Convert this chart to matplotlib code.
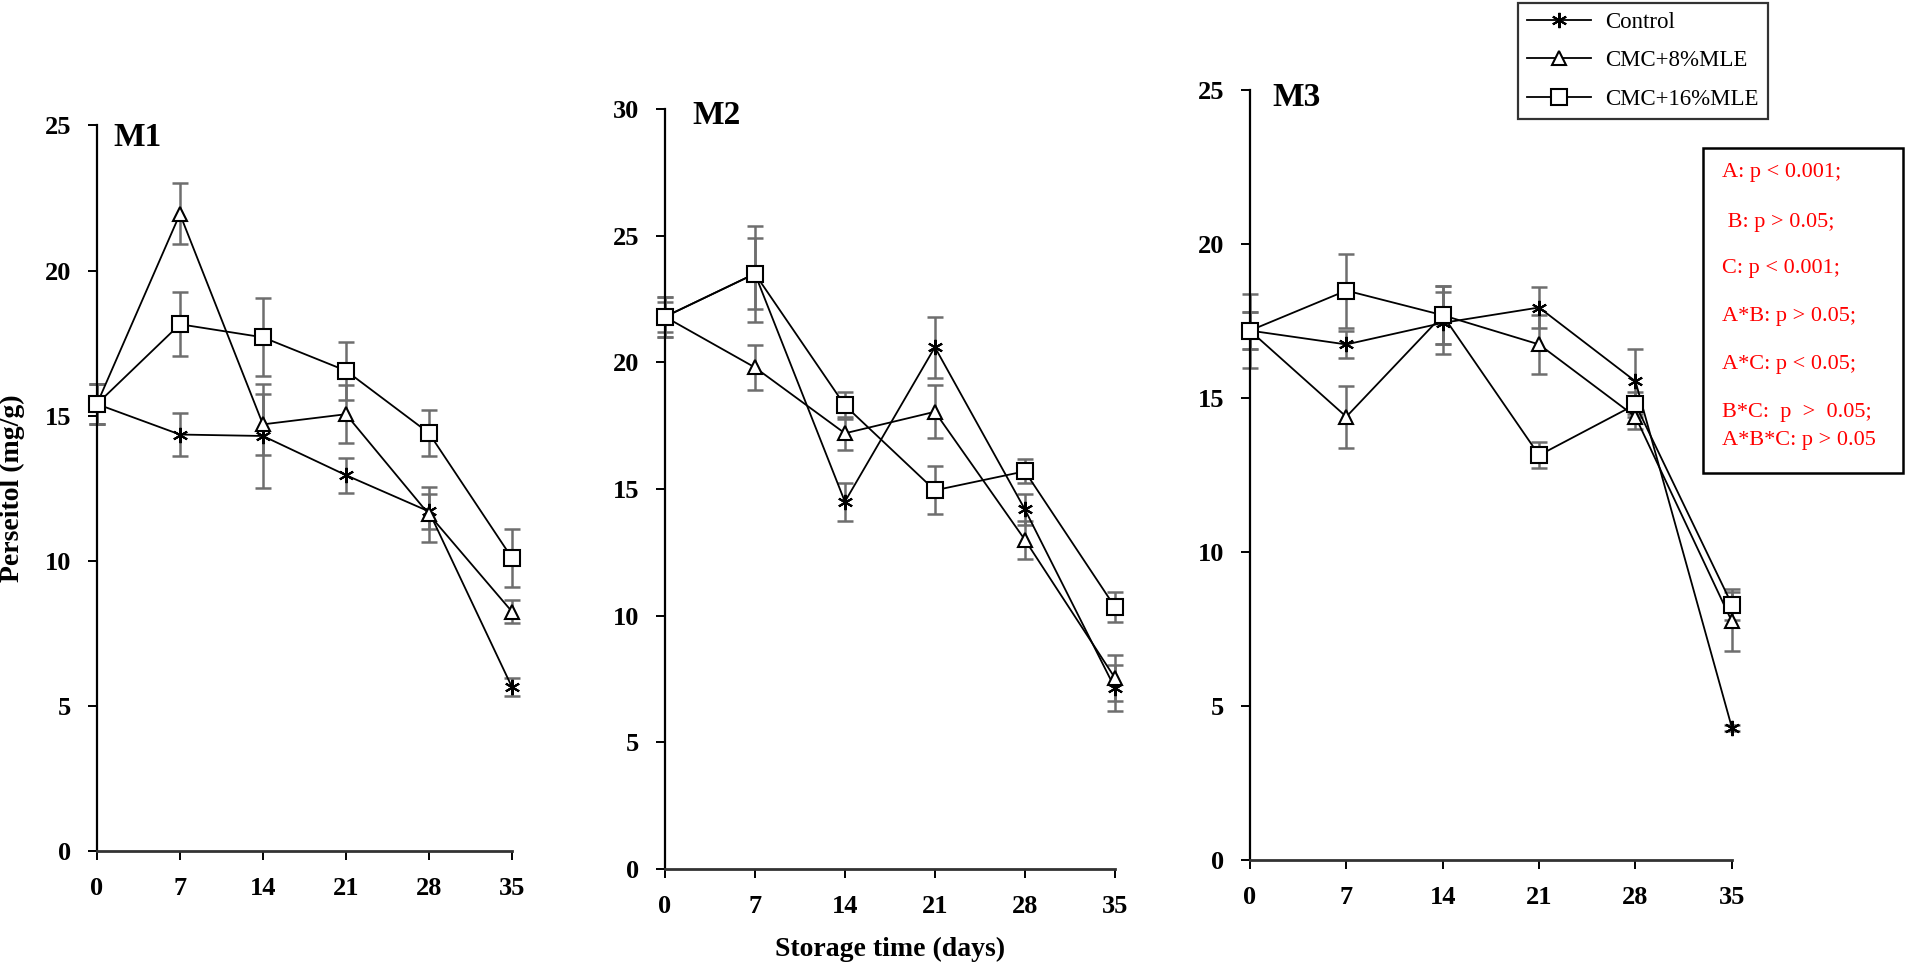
import numpy as np
import matplotlib
matplotlib.use('Agg')
import matplotlib.pyplot as plt
from matplotlib.patches import Rectangle

plt.rcParams['font.family'] = ['Liberation Serif', 'DejaVu Serif']

# storage days
days = [0, 7, 14, 21, 28, 35]
series_names = ['Control', 'CMC+8%MLE', 'CMC+16%MLE']

# M1
m1_control = [15.4, 14.35, 14.3, 12.95, 11.7, 5.65]
m1_control_err = [0.7, 0.75, 1.8, 0.6, 0.6, 0.3]
m1_cmc8 = [15.4, 21.95, 14.7, 15.05, 11.6, 8.25]
m1_cmc8_err = [0.7, 1.05, 1.05, 1.0, 0.95, 0.4]
m1_cmc16 = [15.4, 18.15, 17.7, 16.55, 14.4, 10.1]
m1_cmc16_err = [0.7, 1.1, 1.35, 1.0, 0.8, 1.0]

# M2
m2_control = [21.8, 23.5, 14.5, 20.6, 14.2, 7.15]
m2_control_err = [0.8, 1.9, 0.75, 1.2, 0.6, 0.9]
m2_cmc8 = [21.8, 19.8, 17.2, 18.05, 13.0, 7.55]
m2_cmc8_err = [0.8, 0.9, 0.65, 1.05, 0.75, 0.9]
m2_cmc16 = [21.8, 23.5, 18.3, 14.95, 15.7, 10.35]
m2_cmc16_err = [0.6, 1.4, 0.55, 0.95, 0.47, 0.6]

# M3
m3_control = [17.2, 16.75, 17.45, 17.95, 15.55, 4.3]
m3_control_err = [1.2, 0.45, 1.0, 0.65, 1.05, 0.1]
m3_cmc8 = [17.2, 14.4, 17.7, 16.75, 14.4, 7.75]
m3_cmc8_err = [0.6, 1.0, 0.95, 0.95, 0.4, 0.95]
m3_cmc16 = [17.2, 18.5, 17.7, 13.15, 14.8, 8.3]
m3_cmc16_err = [0.6, 1.2, 0.95, 0.43, 0.4, 0.5]

stats_lines = ['A: p < 0.001;', ' B: p > 0.05;', 'C: p < 0.001;', 'A*B: p > 0.05;',
               'A*C: p < 0.05;', 'B*C:  p  >  0.05;', 'A*B*C: p > 0.05']

markers = [(6, 2, 0), '^', 's']
marker_sizes = [11, 10, 11]

panels = [
    ('M1', [m1_control, m1_cmc8, m1_cmc16], [m1_control_err, m1_cmc8_err, m1_cmc16_err],
     25, [0.0508, 0.1236, 0.2175, 0.7472], (0.039, 0.984)),
    ('M2', [m2_control, m2_cmc8, m2_cmc16], [m2_control_err, m2_cmc8_err, m2_cmc16_err],
     30, [0.3485, 0.1050, 0.2358, 0.7827], (0.060, 0.991)),
    ('M3', [m3_control, m3_cmc8, m3_cmc16], [m3_control_err, m3_cmc8_err, m3_cmc16_err],
     25, [0.6551, 0.1143, 0.2526, 0.7925], (0.046, 0.991)),
]

fig = plt.figure(figsize=(19.08, 9.71), dpi=100)
handles = []
for name, vals, errs, ymax, pos, tpos in panels:
    ax = fig.add_axes(pos)
    for i in range(3):
        ax.errorbar(days, vals[i], yerr=errs[i], fmt='none', ecolor='#6e6e6e',
                    elinewidth=1.8, capsize=6, capthick=1.8, clip_on=False, zorder=2)
        ln, = ax.plot(days, vals[i], color='black', lw=1.3, marker=markers[i],
                      ms=marker_sizes[i], mfc='white' if i > 0 else 'black', mec='black',
                      mew=1.5, clip_on=False, zorder=3, label=series_names[i])
        if name == 'M1':
            handles.append(ln)
    ax.set_xlim(0, 35)
    ax.set_ylim(0, ymax)
    ax.set_xticks(days)
    ax.set_yticks(np.arange(0, ymax + 1, 5))
    ax.spines['top'].set_visible(False)
    ax.spines['right'].set_visible(False)
    ax.spines['left'].set_linewidth(1.6)
    ax.spines['bottom'].set_linewidth(2.0)
    ax.spines['bottom'].set_color('#333333')
    ax.tick_params(direction='out', length=6.5, width=1.4, pad=12, labelsize=19)
    for lbl in ax.get_xticklabels() + ax.get_yticklabels():
        lbl.set_fontweight('bold')
    ax.text(tpos[0], tpos[1], name, transform=ax.transAxes, fontsize=24,
            fontweight='bold', ha='left', va='center')
    if name == 'M1':
        ax.set_ylabel('Perseitol (mg/g)', fontsize=20, fontweight='bold', labelpad=14)
    if name == 'M2':
        ax.set_xlabel('Storage time (days)', fontsize=20, fontweight='bold', labelpad=14)

leg = fig.legend(handles=handles, loc='upper left', bbox_to_anchor=(0.7956, 0.997),
                 borderaxespad=0, fontsize=16.5, frameon=True, fancybox=False,
                 edgecolor='black', handlelength=2.8, handletextpad=0.6,
                 labelspacing=0.75, borderpad=0.4)
leg.get_frame().set_linewidth(1.6)

# statistics box
fig.patches.append(Rectangle((0.8926, 0.5129), 0.1048, 0.3347, transform=fig.transFigure,
                             fill=False, edgecolor='black', lw=1.8))
stat_y = [173, 222, 268, 317, 365, 413, 440]
for s, yy in zip(stats_lines, stat_y):
    fig.text(0.9025, 1 - yy / 971, s, color='red', fontsize=16, ha='left', va='center')

fig.savefig('out.png', dpi=100)
